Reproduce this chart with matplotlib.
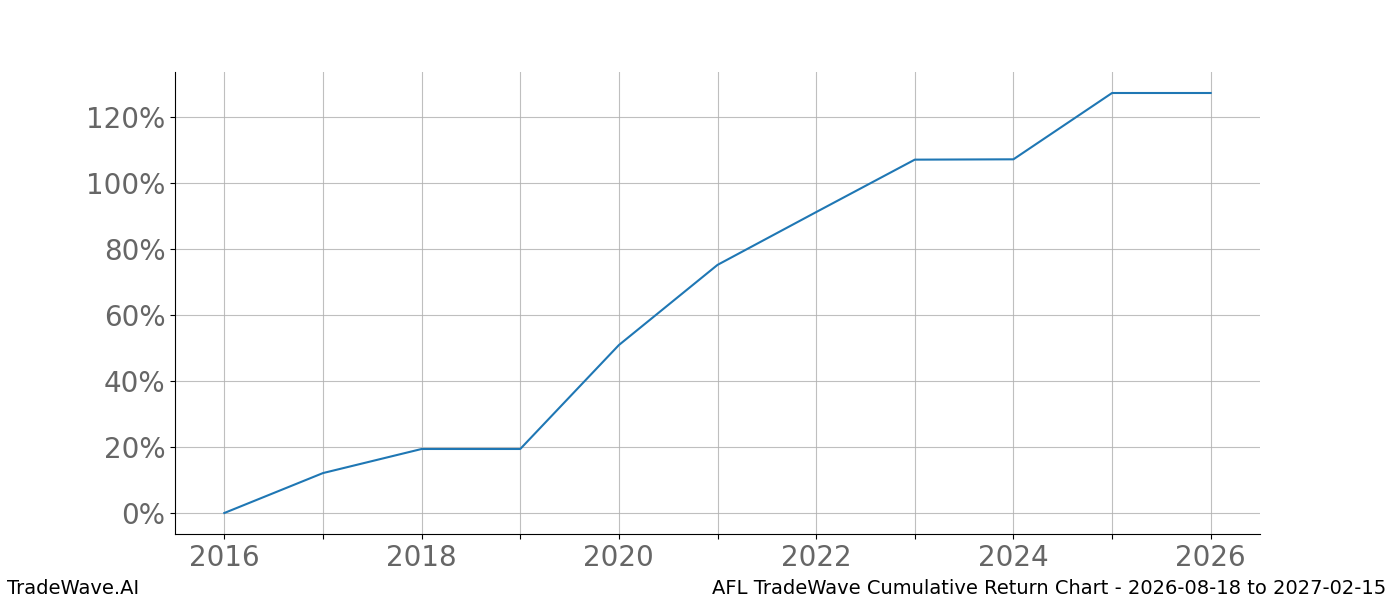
import numpy as np
import matplotlib
matplotlib.use("Agg")
import matplotlib.pyplot as plt
from matplotlib.ticker import FuncFormatter, MultipleLocator

years = [2016, 2017, 2018, 2019, 2020, 2021, 2022, 2023, 2024, 2025, 2026]
cum_return = [0.0, 12.1, 19.4, 19.4, 50.9, 75.2, 91.2, 107.1, 107.2, 127.3, 127.3]

footer_left = "TradeWave.AI"
footer_right = "AFL TradeWave Cumulative Return Chart - 2026-08-18 to 2027-02-15"

fig, ax = plt.subplots(figsize=(14, 6), dpi=100)
ax.plot(years, cum_return, color="#1f77b4", linewidth=1.5)

ax.xaxis.set_major_locator(MultipleLocator(1))
ax.xaxis.set_major_formatter(FuncFormatter(lambda v, p: f"{int(v)}" if int(round(v)) % 2 == 0 else ""))
ax.yaxis.set_major_locator(MultipleLocator(20))
ax.yaxis.set_major_formatter(FuncFormatter(lambda v, p: f"{v:.0f}%"))

ax.grid(True, color="#b0b0b0", linewidth=0.8, alpha=0.8)
ax.tick_params(axis="both", labelsize=20, labelcolor="#666666")
ax.spines["top"].set_visible(False)
ax.spines["right"].set_visible(False)

fig.text(0.005, 0.01, footer_left, fontsize=14, ha="left")
fig.text(0.99, 0.01, footer_right, fontsize=14, ha="right")

fig.savefig("out.png")
